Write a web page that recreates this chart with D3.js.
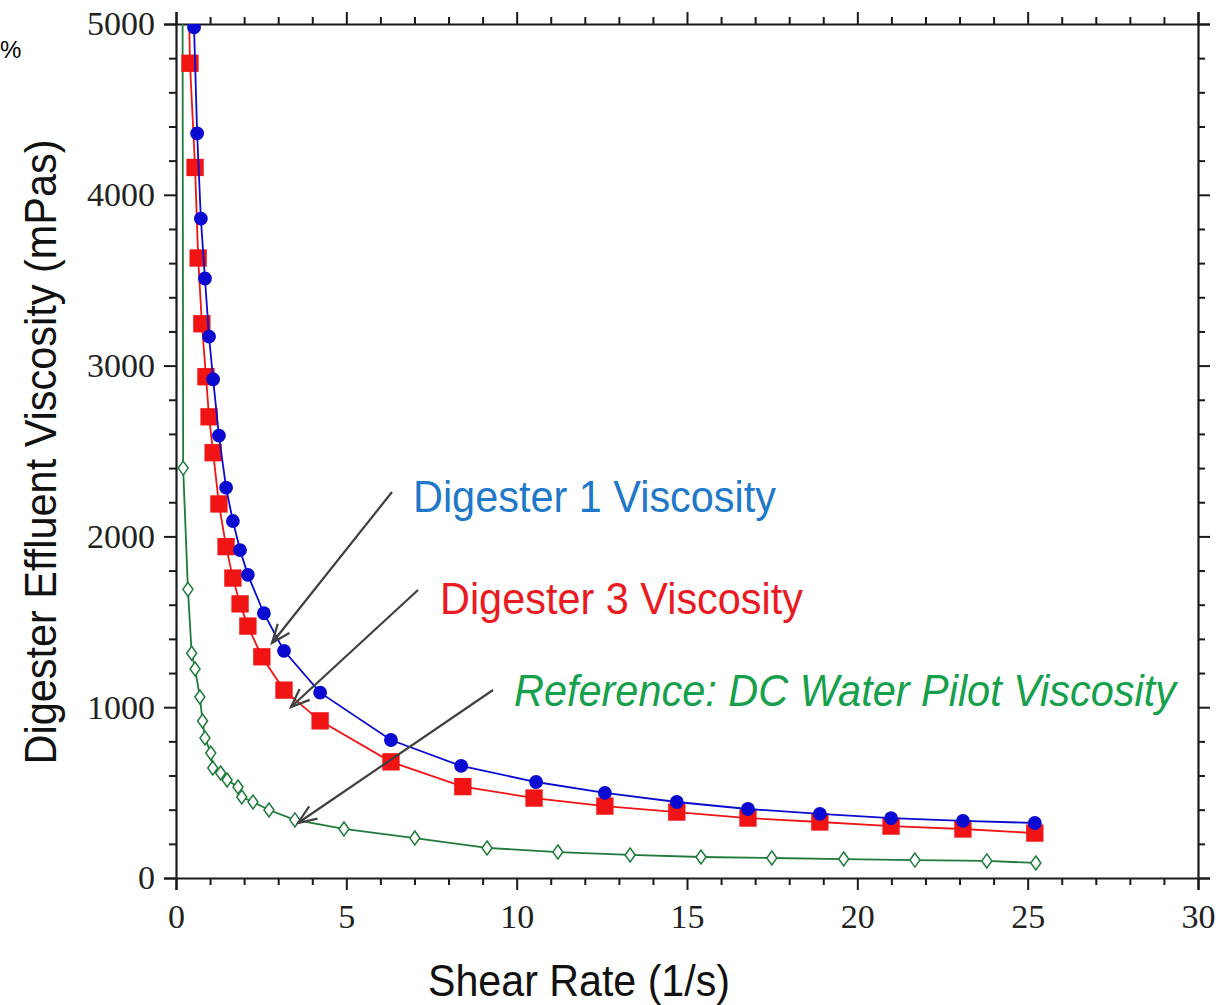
<!DOCTYPE html>
<html>
<head>
<meta charset="utf-8">
<script src="https://cdn.jsdelivr.net/npm/d3@7"></script>
<style>
  body { margin: 0; background: #fff; }
  svg { display: block; }
</style>
</head>
<body>
<svg width="1232" height="1005"></svg>
<script>
// shear rate (1/s) and viscosity (mPas)
const d1Shear = [0.45, 0.53, 0.62, 0.73, 0.85, 0.97, 1.09, 1.26, 1.47, 1.67, 1.88, 2.11, 2.58, 3.17, 4.23, 6.31, 8.37, 10.57, 12.59, 14.7, 16.79, 18.9, 20.99, 23.1, 25.21];
const d1Visc  = [5600, 4980, 4360, 3860, 3510, 3170, 2920, 2590, 2285, 2090, 1920, 1775, 1550, 1330, 1085, 808, 656, 562, 498, 445, 404, 375, 351, 334, 322];

const d3Shear = [0.33, 0.41, 0.56, 0.65, 0.76, 0.88, 0.97, 1.09, 1.26, 1.47, 1.67, 1.88, 2.11, 2.52, 3.17, 4.23, 6.31, 8.42, 10.51, 12.59, 14.7, 16.79, 18.9, 20.99, 23.1, 25.21];
const d3Visc  = [5600, 4770, 4160, 3630, 3245, 2935, 2700, 2490, 2190, 1940, 1756, 1605, 1475, 1295, 1100, 920, 680, 535, 468, 421, 386, 351, 328, 304, 287, 263];

const refShear = [0.19, 0.21, 0.35, 0.46, 0.56, 0.70, 0.78, 0.85, 1.02, 1.08, 1.31, 1.50, 1.82, 1.93, 2.26, 2.73, 3.49, 4.93, 7.01, 9.13, 11.21, 13.33, 15.41, 17.49, 19.6, 21.69, 23.8, 25.24];
const refVisc  = [5600, 2400, 1690, 1316, 1224, 1060, 919, 820, 732, 644, 615, 574, 533, 474, 445, 398, 340, 287, 234, 176, 152, 135, 123, 117, 111, 105, 100, 88];

const xTicks = [0, 5, 10, 15, 20, 25, 30];
const yTicks = [0, 1000, 2000, 3000, 4000, 5000];

const svg = d3.select("svg");
const plotLeft = 176, plotRight = 1198, plotTop = 24, plotBottom = 878;

const x = d3.scaleLinear().domain([0, 30]).range([plotLeft, plotRight]);
const y = d3.scaleLinear().domain([0, 5000]).range([plotBottom, plotTop]);

const colors = {
  axis: "#1a1a1a",
  d1: "#0a0ad0",
  d3: "#f01414",
  ref: "#1f7a3c",
  d1Text: "#1f78c8",
  d3Text: "#ea1a22",
  refText: "#16a04c",
  arrow: "#404040"
};

svg.append("defs").append("clipPath").attr("id", "plot")
  .append("rect").attr("x", plotLeft - 10).attr("y", plotTop)
  .attr("width", plotRight - plotLeft + 10).attr("height", plotBottom - plotTop + 10);

// stray character at the top left edge
svg.append("text").attr("x", 0).attr("y", 58)
  .style("font-family", "Liberation Sans, Arial, sans-serif").style("font-size", "24px")
  .text("%");

// axes: major + minor ticks, all pointing outward
const xMinor = d3.range(0, 31, 1).filter(v => v % 5 != 0);
const yMinor = d3.range(0, 5001, 200).filter(v => v % 1000 != 0);

function drawAxis(axisFn, scale, pos, majors, minors, labels, pad) {
  const g = svg.append("g").attr("transform", pos);
  g.call(axisFn(scale).tickValues(majors).tickSize(12).tickPadding(pad)
    .tickFormat(labels ? d3.format("d") : ""));
  const gm = svg.append("g").attr("transform", pos);
  gm.call(axisFn(scale).tickValues(minors).tickSize(7).tickFormat(""));
  [g, gm].forEach(s => {
    s.selectAll("path").attr("stroke", colors.axis).attr("stroke-width", 2.2);
    s.selectAll("line").attr("stroke", colors.axis).attr("stroke-width", 2);
  });
  gm.select("path").remove();
  g.selectAll("text")
    .style("font-family", "Liberation Serif, serif").style("font-size", "34px").attr("fill", "#222");
  return g;
}

drawAxis(d3.axisBottom, x, `translate(0,${plotBottom})`, xTicks, xMinor, true, 14);
drawAxis(d3.axisTop, x, `translate(0,${plotTop})`, xTicks, xMinor, false, 10);
drawAxis(d3.axisLeft, y, `translate(${plotLeft},0)`, yTicks, yMinor, true, 9);
drawAxis(d3.axisRight, y, `translate(${plotRight},0)`, yTicks, yMinor, false, 10);

// axis titles
svg.append("text")
  .attr("x", 579).attr("y", 996)
  .attr("text-anchor", "middle")
  .attr("textLength", 302).attr("lengthAdjust", "spacingAndGlyphs")
  .style("font-family", "Liberation Sans, Arial, sans-serif").style("font-size", "44px").attr("fill", "#111")
  .text("Shear Rate (1/s)");

svg.append("text")
  .attr("transform", "translate(56,452) rotate(-90)")
  .attr("text-anchor", "middle")
  .attr("textLength", 625).attr("lengthAdjust", "spacingAndGlyphs")
  .style("font-family", "Liberation Sans, Arial, sans-serif").style("font-size", "44px").attr("fill", "#111")
  .text("Digester Effluent Viscosity (mPas)");

// series
const plot = svg.append("g").attr("clip-path", "url(#plot)");
const line = d3.line().x(d => x(d[0])).y(d => y(d[1]));

const series = [
  { shear: refShear, visc: refVisc, color: colors.ref, shape: "diamond" },
  { shear: d3Shear, visc: d3Visc, color: colors.d3, shape: "square" },
  { shear: d1Shear, visc: d1Visc, color: colors.d1, shape: "circle" }
];

series.forEach(s => {
  const pts = s.shear.map((v, i) => [v, s.visc[i]]);
  plot.append("path").datum(pts)
    .attr("d", line).attr("fill", "none")
    .attr("stroke", s.color).attr("stroke-width", 1.8);

  const marks = plot.append("g").selectAll("path").data(pts).enter().append("path")
    .attr("transform", d => `translate(${x(d[0])},${y(d[1])})`);
  if (s.shape == "circle") {
    marks.attr("d", d3.symbol(d3.symbolCircle, 150)()).attr("fill", s.color);
  } else if (s.shape == "square") {
    marks.attr("d", d3.symbol(d3.symbolSquare, 300)()).attr("fill", s.color);
  } else {
    marks.attr("d", "M0,-7L5,0L0,7L-5,0Z").attr("fill", "#fff")
      .attr("stroke", s.color).attr("stroke-width", 1.5);
  }
});

// annotations
const notes = [
  { text: "Digester 1 Viscosity", tx: 413, ty: 512, len: 363, color: colors.d1Text, italic: false, from: [392, 492], to: [272, 643] },
  { text: "Digester 3 Viscosity", tx: 440, ty: 614, len: 363, color: colors.d3Text, italic: false, from: [418, 590], to: [291, 707] },
  { text: "Reference: DC Water Pilot Viscosity", tx: 514, ty: 706, len: 662, color: colors.refText, italic: true, from: [493, 690], to: [298, 823] }
];

notes.forEach(n => {
  svg.append("line")
    .attr("x1", n.from[0]).attr("y1", n.from[1]).attr("x2", n.to[0]).attr("y2", n.to[1])
    .attr("stroke", colors.arrow).attr("stroke-width", 2.2);
  const ang = Math.atan2(n.from[1] - n.to[1], n.from[0] - n.to[0]);
  const hl = 20, spread = 0.38;
  const head = [
    [n.to[0] + hl * Math.cos(ang + spread), n.to[1] + hl * Math.sin(ang + spread)],
    n.to,
    [n.to[0] + hl * Math.cos(ang - spread), n.to[1] + hl * Math.sin(ang - spread)]
  ];
  svg.append("path").attr("d", d3.line()(head)).attr("fill", "none")
    .attr("stroke", colors.arrow).attr("stroke-width", 2.2);

  svg.append("text")
    .attr("x", n.tx).attr("y", n.ty)
    .attr("textLength", n.len).attr("lengthAdjust", "spacingAndGlyphs")
    .style("font-family", "Liberation Sans, Arial, sans-serif").style("font-size", "44px")
    .style("font-style", n.italic ? "italic" : "normal")
    .attr("fill", n.color)
    .text(n.text);
});
</script>
</body>
</html>
